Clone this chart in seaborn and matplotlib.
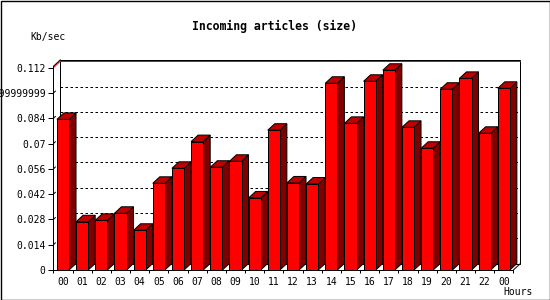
import numpy as np
import pandas as pd
import matplotlib
matplotlib.use("Agg")
import matplotlib.pyplot as plt
import seaborn as sns
from matplotlib.patches import Polygon, Rectangle

# ---- data ----
hours = ["00", "01", "02", "03", "04", "05", "06", "07", "08", "09", "10", "11",
         "12", "13", "14", "15", "16", "17", "18", "19", "20", "21", "22", "00"]
values = [0.0834, 0.0267, 0.0275, 0.0314, 0.0220, 0.0480, 0.0563, 0.0711,
          0.0569, 0.0602, 0.0399, 0.0774, 0.0482, 0.0476, 0.1034, 0.0812,
          0.1045, 0.1106, 0.0790, 0.0674, 0.1001, 0.1061, 0.0757, 0.1006]
ytick_values = [0, 0.014, 0.028, 0.042, 0.056, 0.07, 0.084, 0.098, 0.112]
ytick_labels = ["0", "0.014", "0.028", "0.042", "0.056", "0.07", "0.084",
                "0.09799999999999999", "0.112"]
title = "Incoming articles (size)"
ylabel = "Kb/sec"
xlabel = "Hours"

sns.set_style("white")
plt.rcParams["font.family"] = ["DejaVu Sans Mono"]
for k in ["text.color", "xtick.color", "ytick.color", "axes.labelcolor"]:
    plt.rcParams[k] = "black"

W_PX, H_PX = 550, 300
fig = plt.figure(figsize=(5.5, 3), dpi=100)
fig.patch.set_facecolor("white")

YMAX = 0.1128
x_left, x_right = 53.4, 513.4
y_bottom = 270.0
y_top = y_bottom - YMAX * 1806
ax = fig.add_axes([x_left / W_PX, 1 - y_bottom / H_PX,
                   (x_right - x_left) / W_PX, (y_bottom - y_top) / H_PX])
ax.set_facecolor("none")

df = pd.DataFrame({"slot": list(range(len(values))), "value": values})
sns.barplot(data=df, x="slot", y="value", color="#ff0000", saturation=1,
            width=0.63, edgecolor="black", linewidth=0.72, ax=ax, zorder=3)

ax.set_xlim(-0.5, len(values) - 0.5)
ax.set_ylim(0, YMAX)
for s in ax.spines.values():
    s.set_visible(False)

# pixel -> data depth offsets
p00 = ax.transData.transform((0, 0))
p11 = ax.transData.transform((1, 1))
sx = p11[0] - p00[0]
sy = p11[1] - p00[1]
DX = 7.0 / sx
DY = 6.5 / sy

x0 = -0.5
x1 = len(values) - 0.5
lw = 0.72

# back wall
ax.add_patch(Rectangle((x0 + DX, DY), x1 - x0, YMAX, facecolor="white",
                       edgecolor="black", lw=lw, zorder=0.5, clip_on=False))
# dotted grid on back wall
for v in ytick_values[1:-1]:
    ax.plot([x0 + DX, x1 + DX], [v + DY, v + DY], color="black", lw=lw,
            dashes=(2.5, 2.5), zorder=1, clip_on=False)
    ax.plot([x0, x0 + DX * 0.3], [v, v + DY * 0.3], color="black", lw=lw,
            zorder=1, clip_on=False)
# red max line
top = ytick_values[-1]
ax.plot([x0 + DX, x1 + DX], [top + DY, top + DY], color="#ff0000", lw=lw,
        zorder=1, clip_on=False)
ax.plot([x0, x0 + DX], [top, top + DY], color="#ff0000", lw=lw,
        zorder=1, clip_on=False)

# front frame
ax.plot([x0, x0], [0, YMAX], color="black", lw=lw, zorder=5, clip_on=False)
ax.plot([x0, x0 + DX], [YMAX, YMAX + DY], color="black", lw=lw, zorder=5, clip_on=False)
ax.plot([x0, x1], [0, 0], color="black", lw=lw, zorder=5, clip_on=False)
ax.plot([x1, x1 + DX], [0, DY], color="black", lw=lw, zorder=5, clip_on=False)

# 3D sides / tops from the seaborn bars
for p in list(ax.patches):
    if not isinstance(p, Rectangle) or p.get_zorder() != 3:
        continue
    bx, bw, bh = p.get_x(), p.get_width(), p.get_height()
    p.set_clip_on(False)
    floor = Polygon([(bx, 0), (bx + bw, 0), (bx + bw + DX, DY), (bx + DX, DY)],
                    closed=True, facecolor="#909090", edgecolor="none",
                    zorder=2, clip_on=False)
    side = Polygon([(bx + bw, 0), (bx + bw + DX, DY), (bx + bw + DX, bh + DY),
                    (bx + bw, bh)], closed=True, facecolor="#800000",
                   edgecolor="black", lw=lw, zorder=2.6, clip_on=False)
    topf = Polygon([(bx, bh), (bx + DX, bh + DY), (bx + bw + DX, bh + DY),
                    (bx + bw, bh)], closed=True, facecolor="#c00000",
                   edgecolor="black", lw=lw, zorder=2.6, clip_on=False)
    ax.add_patch(floor)
    ax.add_patch(side)
    ax.add_patch(topf)

# ticks
ax.set_yticks(ytick_values)
ax.set_yticklabels(ytick_labels)
ax.tick_params(axis="y", which="major", left=True, length=3.6, width=lw,
               pad=2.0, labelsize=7, color="black", labelcolor="black")
ax.set_xticks(range(len(hours)))
ax.set_xticklabels(hours)
ax.set_xticks(np.arange(-0.5, len(hours), 1.0), minor=True)
ax.tick_params(axis="x", which="major", bottom=True, length=0, pad=5.0,
               labelsize=7, labelcolor="black")
ax.tick_params(axis="x", which="minor", bottom=True, length=2.2, width=lw, color="black")
ax.set_xlabel("")
ax.set_ylabel("")

fig.text(274 / W_PX, 1 - 26.5 / H_PX, title, ha="center", va="center",
         fontsize=8.3, fontweight="bold", color="black")
fig.text(30 / W_PX, 1 - 37 / H_PX, ylabel, ha="left", va="center", fontsize=7,
         color="black")
fig.text(503 / W_PX, 1 - 292 / H_PX, xlabel, ha="left", va="center", fontsize=7,
         color="black")

fig.patches.append(Rectangle((0.5 / W_PX, 0.5 / H_PX), 1 - 1.0 / W_PX, 1 - 1.0 / H_PX,
                             transform=fig.transFigure, fill=False,
                             edgecolor="black", lw=1.0))

fig.savefig("out.png", dpi=100)
